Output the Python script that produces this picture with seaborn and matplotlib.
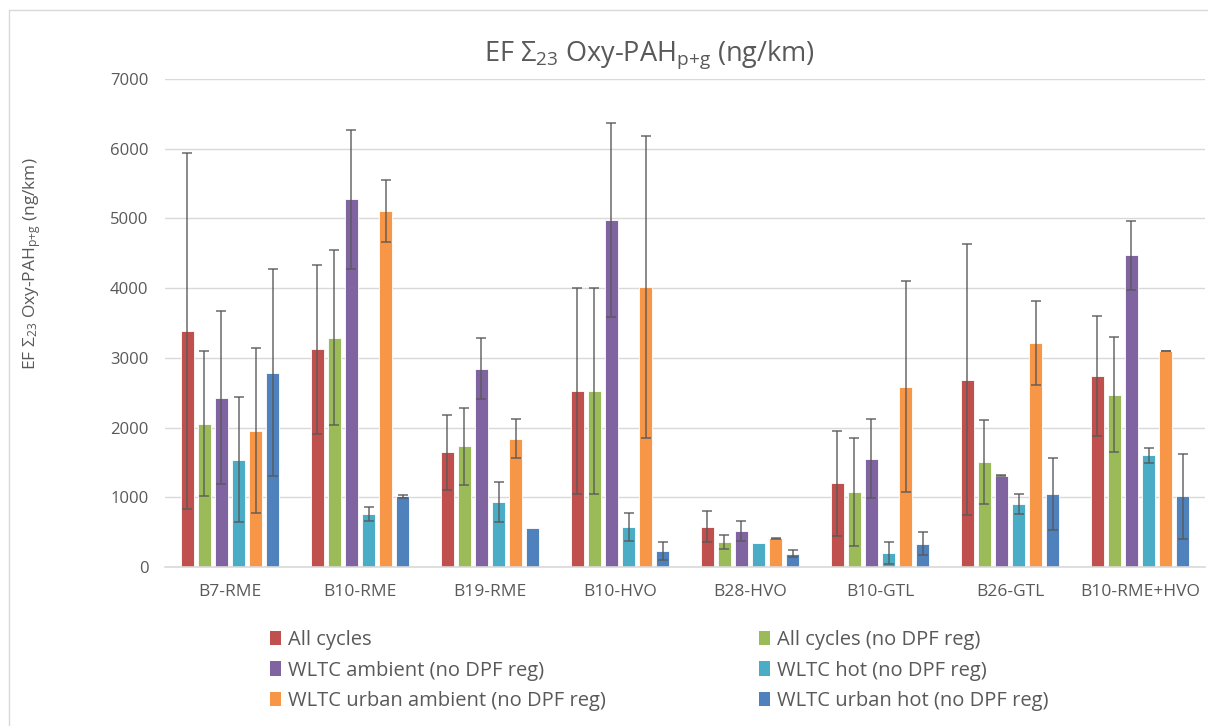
import numpy as np
import pandas as pd
import matplotlib
matplotlib.use("Agg")
import matplotlib.pyplot as plt
import seaborn as sns
from matplotlib.lines import Line2D
from matplotlib.patches import Patch

fuels = ["B7-RME", "B10-RME", "B19-RME", "B10-HVO", "B28-HVO", "B10-GTL", "B26-GTL", "B10-RME+HVO"]
series = ["All cycles", "All cycles (no DPF reg)", "WLTC ambient (no DPF reg)",
          "WLTC hot (no DPF reg)", "WLTC urban ambient (no DPF reg)", "WLTC urban hot (no DPF reg)"]
colors = ["#C0504D", "#9BBB59", "#8064A2", "#4BACC6", "#F79646", "#4F81BD"]

# Emission factors (ng/km) per fuel, one list per series
all_cycles = [3390, 3120, 1646, 2521, 580, 1201, 2689, 2741]
all_cycles_nodpf = [2057, 3291, 1732, 2521, 359, 1072, 1502, 2473]
wltc_ambient = [2430, 5275, 2846, 4974, 512, 1555, 1311, 4472]
wltc_hot = [1541, 756, 928, 574, 344, 201, 900, 1603]
wltc_urban_ambient = [1957, 5103, 1842, 4013, 412, 2588, 3214, 3099]
wltc_urban_hot = [2789, 1014, 565, 230, 192, 330, 1043, 1014]

# Standard deviations (ng/km); NaN where only one measurement exists
nan = float("nan")
err_all_cycles = [2555, 1212, 535, 1480, 222, 751, 1950, 863]
err_all_cycles_nodpf = [1040, 1251, 550, 1480, 100, 772, 600, 825]
err_wltc_ambient = [1236, 1000, 443, 1390, 143, 569, 5, 495]
err_wltc_hot = [893, 98, 287, 201, nan, 160, 146, 105]
err_wltc_urban_ambient = [1186, 445, 277, 2164, 10, 1513, 605, 6]
err_wltc_urban_hot = [1485, 25, nan, 131, 46, 165, 514, 612]

values = [all_cycles, all_cycles_nodpf, wltc_ambient, wltc_hot, wltc_urban_ambient, wltc_urban_hot]
errors = [err_all_cycles, err_all_cycles_nodpf, err_wltc_ambient, err_wltc_hot,
          err_wltc_urban_ambient, err_wltc_urban_hot]

rows = []
for s, vals, errs in zip(series, values, errors):
    for f, v, e in zip(fuels, vals, errs):
        rows.append({"fuel": f, "series": s, "ef": v, "sd": e})
df = pd.DataFrame(rows)

sns.set_theme(style="white")
plt.rcParams["font.family"] = ["Open Sans", "DejaVu Sans"]
plt.rcParams["mathtext.fontset"] = "custom"
plt.rcParams["mathtext.rm"] = "Open Sans"
plt.rcParams["mathtext.it"] = "Open Sans"
plt.rcParams["mathtext.default"] = "rm"

text_color = "#595959"
W, H = 1208, 726
fig = plt.figure(figsize=(W / 100, H / 100), dpi=100)
ax = fig.add_axes([165 / W, 1 - 567 / H, 1040 / W, 488 / H])

sns.barplot(data=df, x="fuel", y="ef", hue="series", order=fuels, hue_order=series,
            palette=colors, width=0.785, gap=0.18, errorbar=None, ax=ax,
            edgecolor="white", linewidth=0.6, legend=False, saturation=1)

# error bars placed on each bar's centre
for patch_container, errs in zip(ax.containers, errors):
    xs = np.array([p.get_x() + p.get_width() / 2 for p in patch_container])
    ys = np.array([p.get_height() for p in patch_container])
    e = np.array(errs, dtype=float)
    keep = ~np.isnan(e)
    ax.errorbar(xs[keep], ys[keep], yerr=e[keep], fmt="none", ecolor="#595959", elinewidth=1.1,
                capsize=3.5, capthick=1.1, alpha=0.9, zorder=5)

ax.set_ylim(0, 7000)
ax.set_xlim(-0.5, len(fuels) - 0.5)
ax.set_yticks(range(0, 7001, 1000))
ax.yaxis.grid(True, color="#D9D9D9", linewidth=1.0)
ax.set_axisbelow(True)
for side in ["top", "right", "left"]:
    ax.spines[side].set_visible(False)
ax.spines["bottom"].set_color("#D9D9D9")
ax.spines["bottom"].set_linewidth(1.2)
ax.tick_params(axis="y", length=0, labelsize=12, colors=text_color, pad=12)
ax.tick_params(axis="x", length=0, labelsize=12.5, colors=text_color, pad=12)
ax.set_xlabel("")
ax.set_ylabel(r"EF $\Sigma_{23}$ Oxy-PAH$_{p{+}g}$ (ng/km)", fontsize=12.5, color=text_color)
ax.yaxis.set_label_coords(-122 / 1040, (567 - 264) / 488)

fig.text(649 / W, 1 - 55 / H, r"EF $\Sigma_{23}$ Oxy-PAH$_{p{+}g}$ (ng/km)",
         ha="center", va="center", fontsize=19.5, color=text_color)

# legend, filled row by row
order = [0, 2, 4, 1, 3, 5]
handles = [Patch(facecolor=colors[i], edgecolor="none") for i in order]
labels = [series[i] for i in order]
fig.legend(handles, labels, ncol=2, loc="upper left", bbox_to_anchor=(252 / W, 1 - 612 / H),
           frameon=False, fontsize=14.5, handlelength=0.55, handleheight=0.75, handletextpad=0.35,
           columnspacing=7.6, labelspacing=0.52, labelcolor=text_color)

# chart area frame
fig.add_artist(Line2D([9 / W, 1], [1 - 10 / H] * 2, color="#D9D9D9", lw=1, transform=fig.transFigure))
fig.add_artist(Line2D([9 / W] * 2, [0, 1 - 10 / H], color="#D9D9D9", lw=1, transform=fig.transFigure))

fig.savefig("out.png", dpi=100)
